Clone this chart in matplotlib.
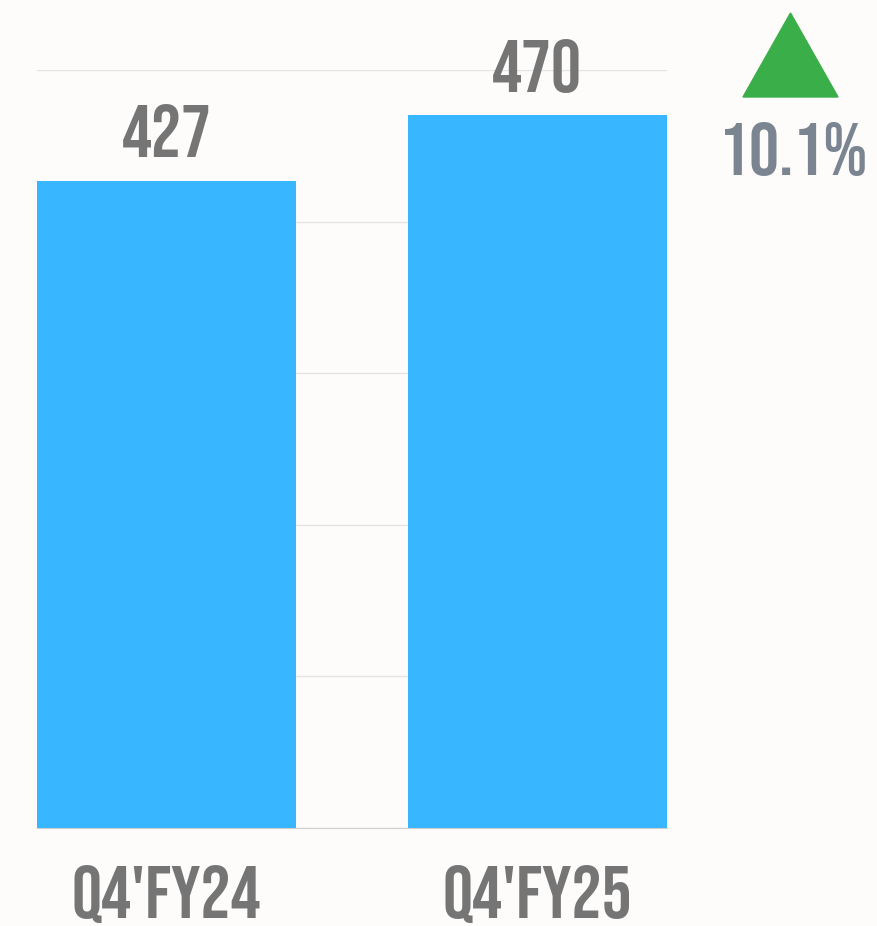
import matplotlib.pyplot as plt
from matplotlib.patches import Polygon

periods = ["Q4'FY24", "Q4'FY25"]
values = [427, 470]
change_label = "10.1%"

BG = "#fdfcfb"
BAR = "#38b6ff"
TEXT = "#757575"
FONT = ["Bebas Neue", "DejaVu Sans"]
FS = 54

W, H = 877, 926
fig = plt.figure(figsize=(W / 100, H / 100), dpi=100)
fig.set_facecolor(BG)
ax = fig.add_axes([37 / W, (H - 828) / H, (667 - 37) / W, (828 - 70) / H])
ax.set_facecolor(BG)

x = range(len(periods))
bars = ax.bar(x, values, width=0.7, color=BAR, zorder=3)
ax.set_xlim(-0.35, 1.35)
ax.set_ylim(0, 500)
ax.set_yticks(range(0, 501, 100))
ax.grid(axis="y", color="#e3e3e3", linewidth=1, zorder=0)
ax.tick_params(axis="y", left=False, labelleft=False)
ax.tick_params(axis="x", length=0, pad=65)
for side in ["top", "left", "right"]:
    ax.spines[side].set_visible(False)
ax.spines["bottom"].set_color("#cfcfcf")
ax.spines["bottom"].set_zorder(1)

ax.set_xticks(list(x))
ax.set_xticklabels(periods, family=FONT, fontsize=FS, color=TEXT)
for lab in ax.get_xticklabels():
    lab.set_va("baseline")

for b, v in zip(bars, values):
    ax.annotate(
        f"{v}",
        (b.get_x() + b.get_width() / 2, v),
        xytext=(0, 17),
        textcoords="offset points",
        ha="center",
        va="baseline",
        family=FONT,
        fontsize=FS,
        color=TEXT,
    )

# up-arrow indicator and change text
tri = Polygon(
    [(743 / W, 1 - 97 / H), (838 / W, 1 - 97 / H), (790.5 / W, 1 - 13 / H)],
    closed=True,
    transform=fig.transFigure,
    color="#3aae48",
)
fig.patches.append(tri)
fig.text(
    793 / W,
    1 - 175 / H,
    change_label,
    ha="center",
    va="baseline",
    family=FONT,
    fontsize=FS,
    color="#7a8591",
)

plt.savefig("out.png", dpi=100, facecolor=BG)
